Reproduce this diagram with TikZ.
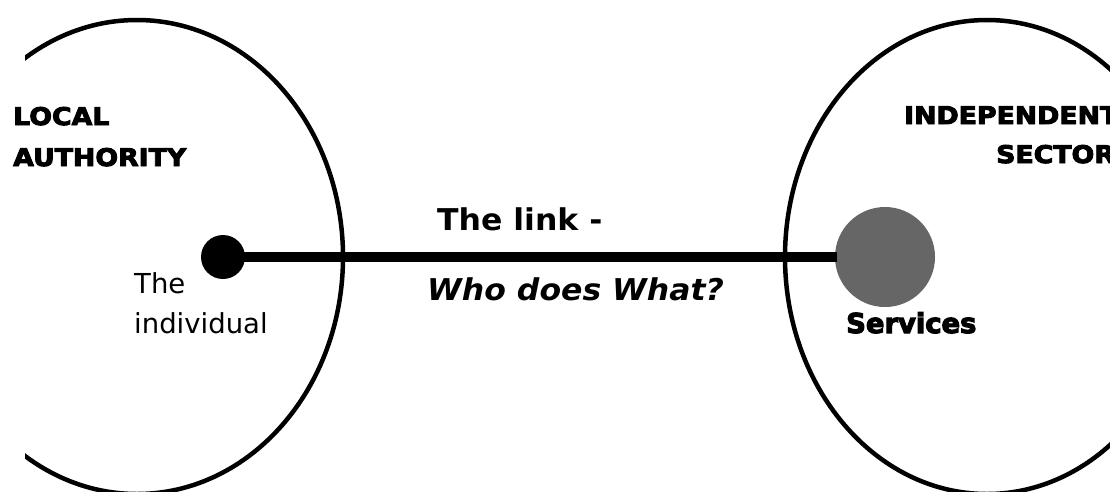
\documentclass[tikz,border=0pt]{standalone}
\usepackage{fontspec}
\setmainfont{DejaVu Sans}
\newfontfamily\capsfont[FakeStretch=1.1, BoldFont={DejaVu Sans Bold}, BoldFeatures={FakeBold=4}]{DejaVu Sans}
\newfontfamily\svcfont[BoldFont={DejaVu Sans Bold}, BoldFeatures={FakeBold=4}]{DejaVu Sans}
\newfontfamily\linkfont[FakeStretch=1.05]{DejaVu Sans}
\definecolor{svcgray}{HTML}{666666}
\tikzset{
  ring/.style={draw=black, line width=4.5pt},
  capslabel/.style={anchor=base west, inner sep=0pt, font=\capsfont\bfseries\fontsize{24.3}{29}\selectfont},
  plainlabel/.style={anchor=base west, inner sep=0pt, font=\fontsize{27.5}{33}\selectfont},
  linklabel/.style={anchor=base west, inner sep=0pt, font=\linkfont\bfseries\fontsize{30}{36}\selectfont},
  svclabel/.style={anchor=base west, inner sep=0pt, font=\svcfont\bfseries\fontsize{27.4}{33}\selectfont},
  dotnode/.style={circle, fill=black, minimum size=44pt, inner sep=0pt},
  svcnode/.style={circle, fill=svcgray, minimum size=100pt, inner sep=0pt},
  linkline/.style={draw=black, line width=10pt}
}
\begin{document}
\begin{tikzpicture}[x=1pt,y=-1pt]
\useasboundingbox (0,0) rectangle (1110,491);
\clip (0,0) rectangle (1110,491);
% left ellipse (cut off on the left)
\begin{scope}
  \clip (25,0) rectangle (1110,491);
  \draw[ring] (137,257) ellipse [x radius=206, y radius=237];
\end{scope}
% right ellipse
\draw[ring] (987,257) ellipse [x radius=202, y radius=237];
% nodes
\node[dotnode] (ind) at (223,257) {};
\node[svcnode] (svc) at (885,257) {};
\draw[linkline, shorten <=-2pt, shorten >=-2pt] (ind) -- (svc);
% labels
\node[capslabel] (local) at (13,125) {LOCAL};
\node[capslabel] (auth) at (13,166) {AUTHORITY};
\node[capslabel] (indep) at (904,124) {INDEPENDENT};
\node[capslabel] (sector) at (996,163) {SECTOR};
\node[plainlabel] (the) at (134,293) {The};
\node[plainlabel] (individual) at (134,333) {individual};
\node[linklabel] (linktitle) at (437,230) {The link -};
\node[linklabel] (who) at (427,300) {\itshape Who does What?};
\node[svclabel] (services) at (846,333) {Services};
\end{tikzpicture}
\end{document}
